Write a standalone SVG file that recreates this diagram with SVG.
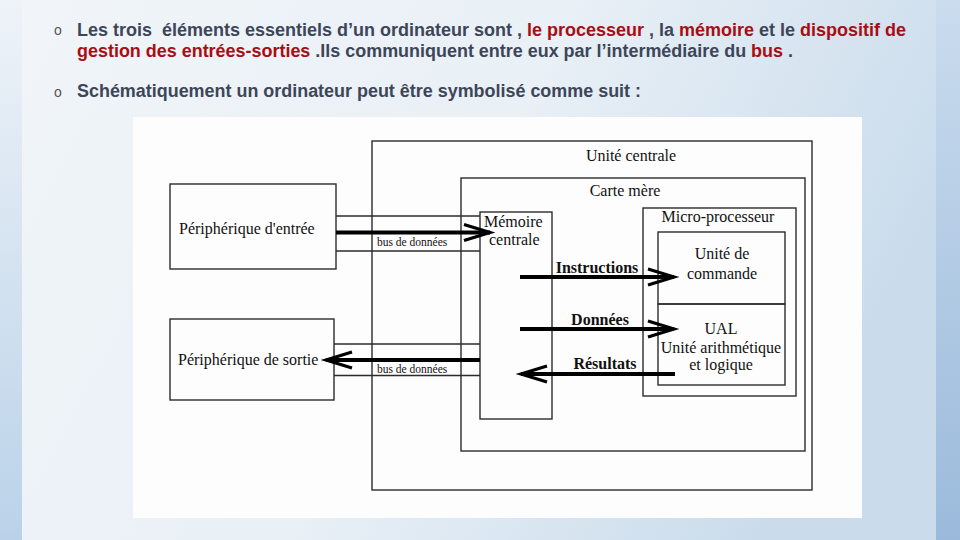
<svg xmlns="http://www.w3.org/2000/svg" width="960" height="540" viewBox="0 0 960 540">
<defs>
<linearGradient id="bgMain" x1="0" y1="0" x2="1" y2="0.3">
<stop offset="0" stop-color="#f1f5f9"/>
<stop offset="0.55" stop-color="#e9f0f6"/>
<stop offset="1" stop-color="#cadcec"/>
</linearGradient>
<linearGradient id="bgLeft" x1="0" y1="0" x2="0" y2="1">
<stop offset="0" stop-color="#eef3f8"/>
<stop offset="1" stop-color="#bad2e9"/>
</linearGradient>
<linearGradient id="bgRight" x1="0" y1="0" x2="0" y2="1">
<stop offset="0" stop-color="#cadcee"/>
<stop offset="1" stop-color="#9bbadb"/>
</linearGradient>
<marker id="chev" markerUnits="userSpaceOnUse" viewBox="-30 -12 34 24" markerWidth="34" markerHeight="24" refX="0" refY="0" orient="auto" overflow="visible">
<path d="M-26,-8 L0,0 L-26,8" fill="none" stroke="#000" stroke-width="3.2" stroke-linejoin="miter"/>
</marker>
</defs>
<style>
.hdr{font-family:"Liberation Sans",Arial,sans-serif;font-weight:bold;font-size:18px;fill:#3d4659}
.red{fill:#a90d12}
.bul{font-family:"Liberation Sans",Arial,sans-serif;font-size:14px;fill:#555}
.box{fill:none;stroke:#2b2b2b;stroke-width:1.4}
.lbl{font-family:"Liberation Serif","Times New Roman",serif;font-size:16px;fill:#111}
.small{font-family:"Liberation Serif","Times New Roman",serif;font-size:11.5px;fill:#111}
.bold{font-family:"Liberation Serif","Times New Roman",serif;font-size:16px;font-weight:bold;fill:#111}
.bus{stroke:#2b2b2b;stroke-width:1.3;fill:none}
.arr{stroke:#000;stroke-width:4;fill:none;marker-end:url(#chev)}
.mid{text-anchor:middle}
</style>
<rect x="0" y="0" width="960" height="540" fill="url(#bgMain)"/>
<rect x="0" y="0" width="22" height="540" fill="url(#bgLeft)"/>
<rect x="936" y="0" width="24" height="540" fill="url(#bgRight)"/>

<g id="header">
<text class="bul" x="54" y="35">o</text>
<text class="hdr" x="77" y="36" textLength="829" lengthAdjust="spacingAndGlyphs" xml:space="preserve">Les trois  éléments essentiels d’un ordinateur sont , <tspan class="red">le processeur</tspan> , la <tspan class="red">mémoire</tspan> et le <tspan class="red">dispositif de</tspan></text>
<text class="hdr" x="77" y="57" textLength="716" lengthAdjust="spacingAndGlyphs" xml:space="preserve"><tspan class="red">gestion des entrées-sorties</tspan> .Ils communiquent entre eux par l’intermédiaire du <tspan class="red">bus</tspan> .</text>
<text class="bul" x="54" y="97">o</text>
<text class="hdr" x="77" y="97" textLength="564" lengthAdjust="spacingAndGlyphs">Schématiquement un ordinateur peut être symbolisé comme suit :</text>
</g>

<rect x="133" y="117" width="729" height="401" fill="#fdfdfd"/>

<g id="unite-centrale">
<rect class="box" x="372" y="141" width="440" height="349"/>
<text class="lbl mid" x="631" y="161">Unité centrale</text>
</g>
<g id="carte-mere">
<rect class="box" x="461" y="178" width="344" height="273"/>
<text class="lbl mid" x="625" y="196">Carte mère</text>
</g>
<g id="memoire-centrale">
<rect class="box" x="480" y="212" width="72" height="207" fill="#fdfdfd"/>
<text class="lbl" x="484" y="227">Mémoire</text>
<text class="lbl" x="489" y="245">centrale</text>
</g>
<g id="micro-processeur">
<rect class="box" x="643" y="208" width="153" height="188"/>
<text class="lbl mid" x="718" y="222">Micro-processeur</text>
</g>
<g id="unite-de-commande">
<rect class="box" x="658" y="232" width="127" height="72"/>
<text class="lbl mid" x="722" y="259">Unité de</text>
<text class="lbl mid" x="722" y="279">commande</text>
</g>
<g id="ual">
<rect class="box" x="658" y="304" width="127" height="81"/>
<text class="lbl mid" x="721" y="334">UAL</text>
<text class="lbl mid" x="721" y="353">Unité arithmétique</text>
<text class="lbl mid" x="721" y="370">et logique</text>
</g>
<g id="peripherique-entree">
<rect class="box" x="170" y="184" width="166" height="85"/>
<text class="lbl" x="179" y="234">Périphérique d'entrée</text>
</g>
<g id="peripherique-sortie">
<rect class="box" x="170" y="319" width="164" height="81"/>
<text class="lbl" x="178" y="365">Périphérique de sortie</text>
</g>

<g id="connectors">
<line class="bus" x1="336" y1="216" x2="480" y2="216"/>
<line class="bus" x1="336" y1="251" x2="480" y2="251"/>
<line class="arr" x1="336" y1="232.5" x2="490" y2="232.5"/>
<text class="small" x="377" y="246">bus de données</text>
<line class="bus" x1="334" y1="344" x2="480" y2="344"/>
<line class="bus" x1="334" y1="375.5" x2="480" y2="375.5"/>
<line class="arr" x1="480" y1="360" x2="326" y2="360"/>
<text class="small" x="377" y="373">bus de données</text>
<line class="arr" x1="520" y1="277" x2="674" y2="277"/>
<text class="bold mid" x="597" y="273">Instructions</text>
<line class="arr" x1="520" y1="329" x2="674" y2="329"/>
<text class="bold mid" x="600" y="325">Données</text>
<line class="arr" x1="675" y1="374" x2="521" y2="374"/>
<text class="bold mid" x="605" y="369">Résultats</text>
</g>
</svg>
